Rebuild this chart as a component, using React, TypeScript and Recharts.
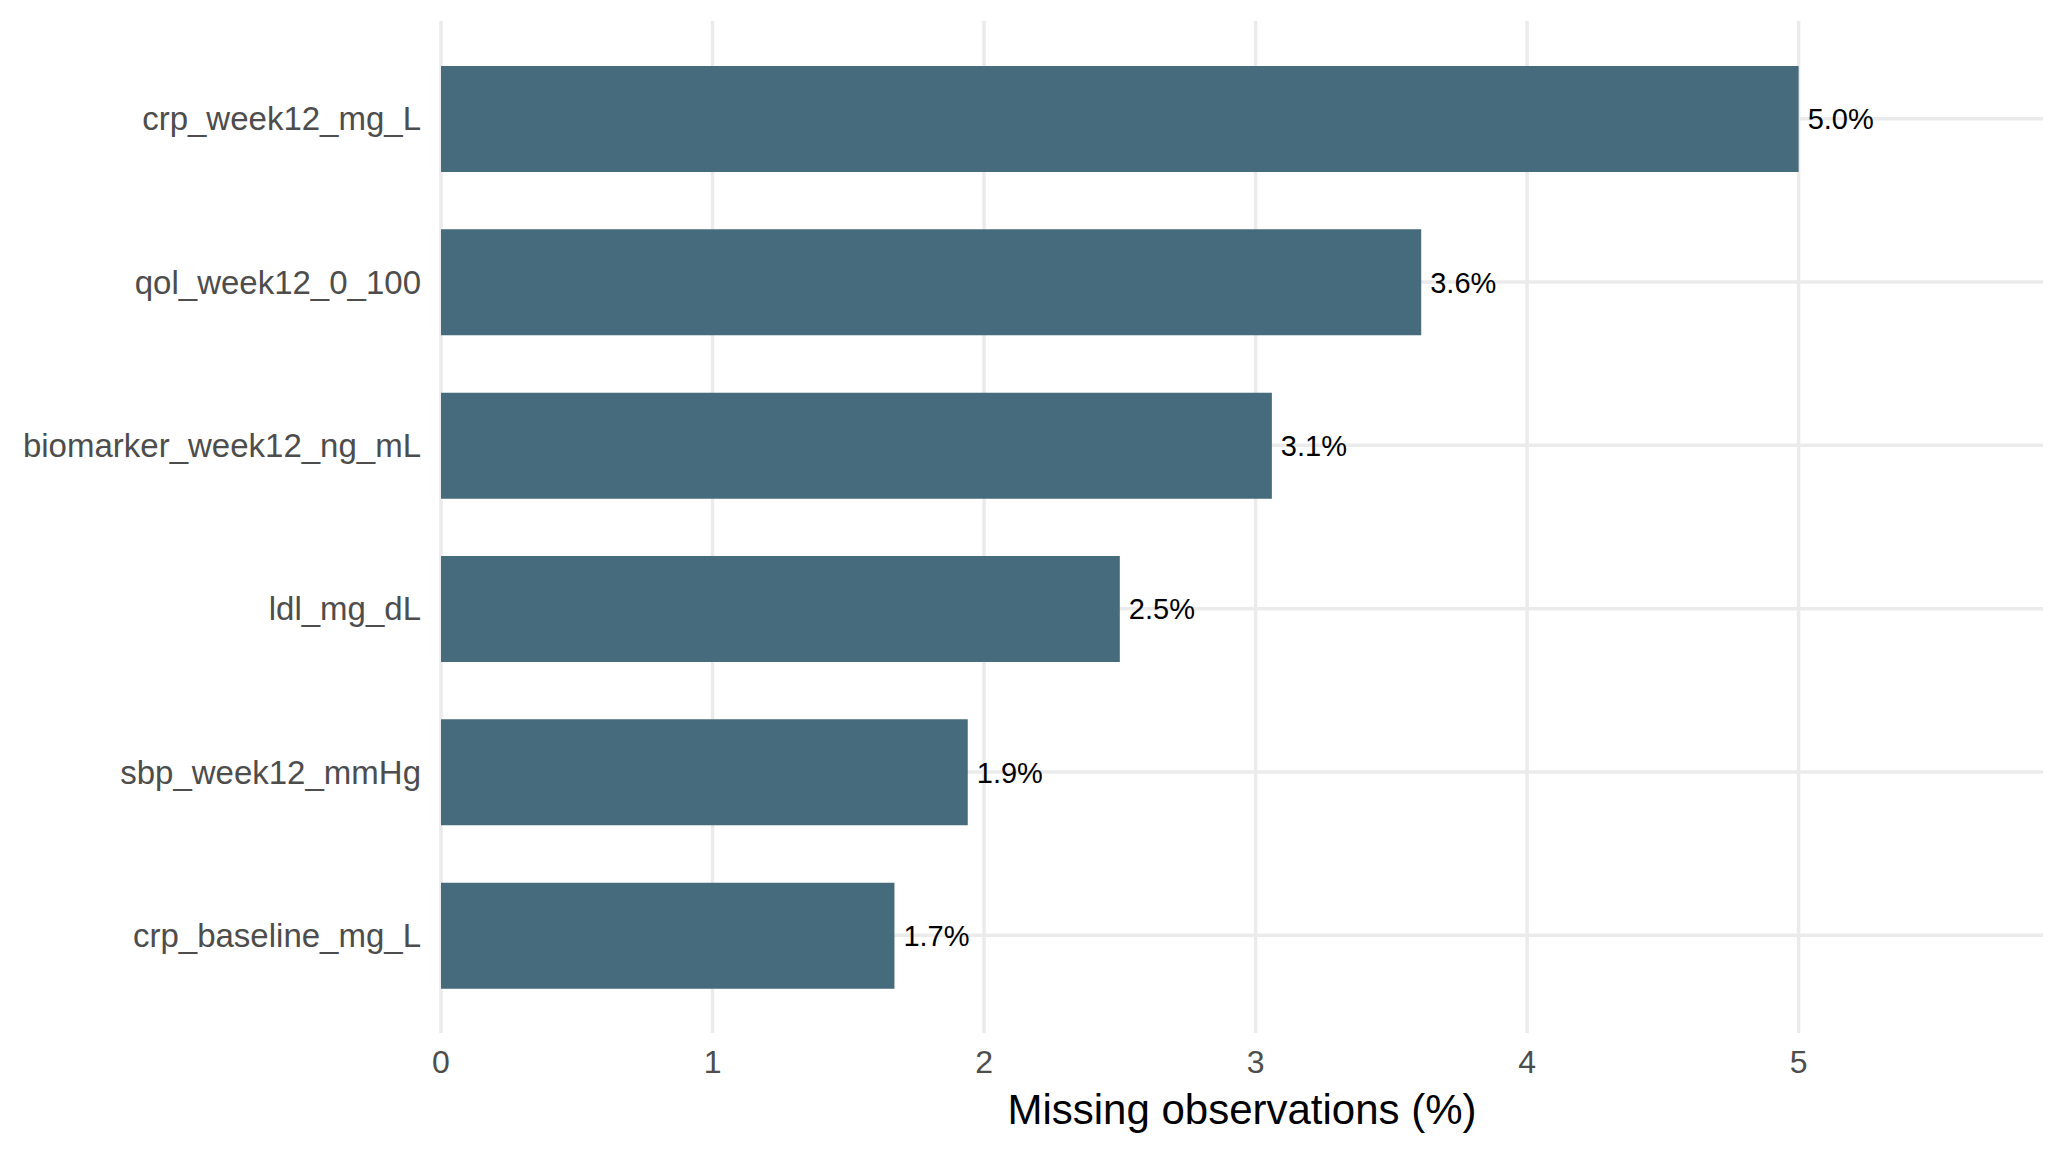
import { BarChart, Bar, XAxis, YAxis, CartesianGrid, LabelList } from "recharts";

// variables, top to bottom
const variables = [
    "crp_week12_mg_L",
    "qol_week12_0_100",
    "biomarker_week12_ng_mL",
    "ldl_mg_dL",
    "sbp_week12_mmHg",
    "crp_baseline_mg_L",
];

// % missing
const missingPct = [5.0, 3.61, 3.06, 2.5, 1.94, 1.67];

const xTicks = [0, 1, 2, 3, 4, 5];

const data = variables.map((name, i) => ({ name, missing: missingPct[i] }));

const font = "'Liberation Sans', Arial, Helvetica, sans-serif";

export default function App() {
    return (
        <div style={{ position: "absolute", left: 0, top: 0, width: 2064, height: 1152, background: "#fff" }}>
            <BarChart
                width={2064}
                height={1152}
                data={data}
                layout="vertical"
                margin={{ top: 21, right: 21, bottom: 0, left: 0 }}
                style={{ fontFamily: font }}
            >
                <CartesianGrid stroke="#EBEBEB" strokeWidth={3.5} syncWithTicks />
                <XAxis
                    type="number"
                    domain={[0, 5.9]}
                    ticks={xTicks}
                    axisLine={false}
                    tickLine={false}
                    tickSize={0}
                    tickMargin={17}
                    height={119}
                    tick={{ fill: "#4D4D4D", fontSize: 32, fontFamily: font }}
                    label={{
                        value: "Missing observations (%)",
                        position: "insideBottom",
                        offset: 28,
                        fill: "#000",
                        fontSize: 42,
                        fontFamily: font,
                    }}
                />
                <YAxis
                    type="category"
                    dataKey="name"
                    width={441}
                    padding={{ top: 16, bottom: 16 }}
                    axisLine={false}
                    tickLine={false}
                    tickSize={0}
                    tickMargin={20}
                    interval={0}
                    tick={{ fill: "#4D4D4D", fontSize: 33, fontFamily: font }}
                />
                <Bar dataKey="missing" fill="#466B7C" barSize={106} isAnimationActive={false}>
                    <LabelList
                        dataKey="missing"
                        position="right"
                        offset={9}
                        fill="#000"
                        fontSize={29}
                        fontFamily={font}
                        formatter={(v: number) => v.toFixed(1) + "%"}
                    />
                </Bar>
            </BarChart>
        </div>
    );
}
